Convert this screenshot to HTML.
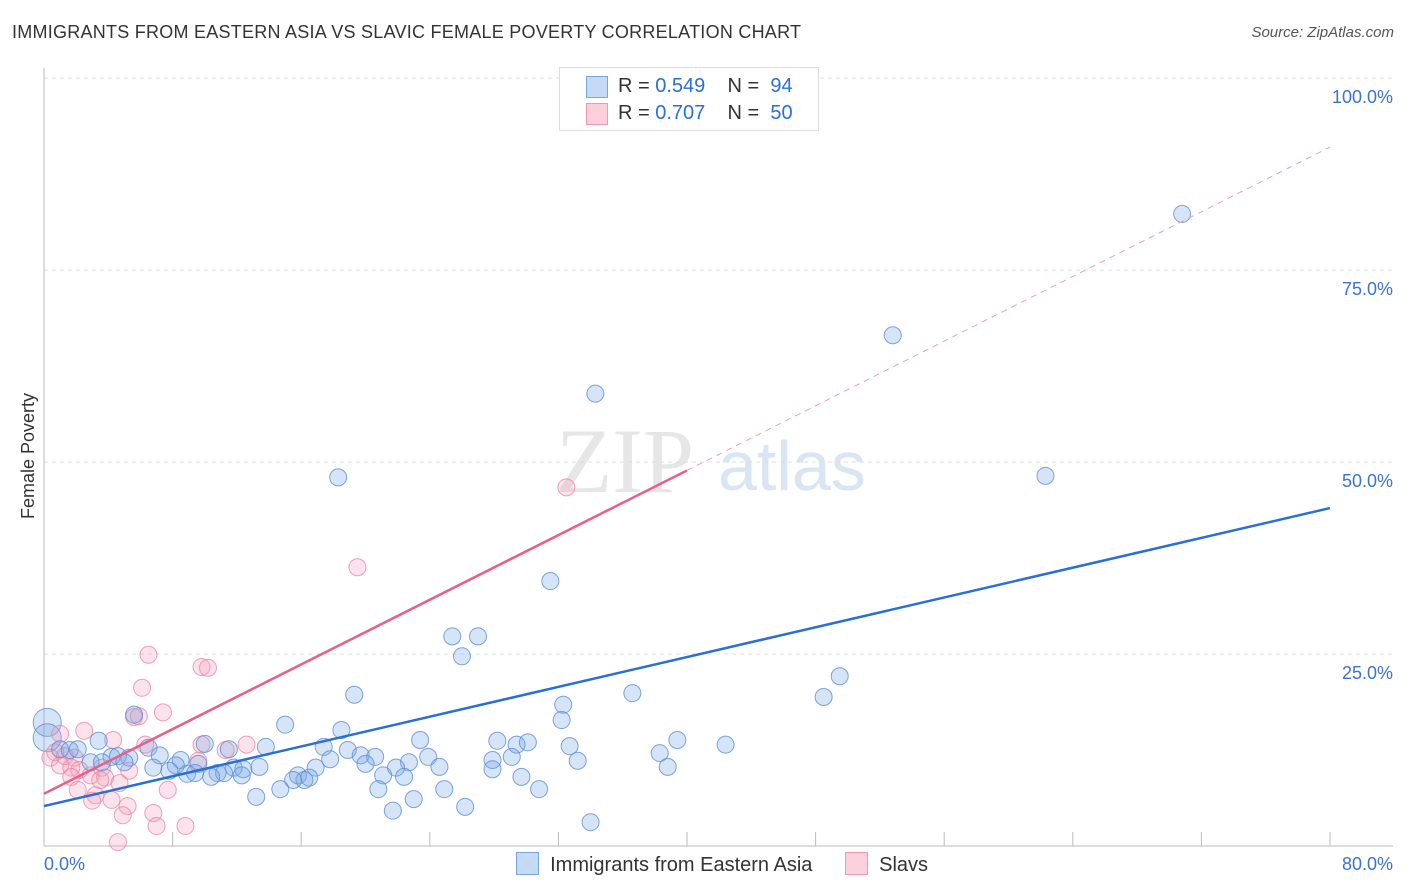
<!DOCTYPE html>
<html><head><meta charset="utf-8"><style>
body{margin:0;background:#fff;font-family:"Liberation Sans",sans-serif;}
#wrap{position:relative;width:1406px;height:892px;overflow:hidden}
.t{position:absolute;white-space:nowrap}
</style></head><body>
<div id="wrap">
<div class="t" style="left:12px;top:22px;font-size:18px;letter-spacing:0.25px;color:#333">IMMIGRANTS FROM EASTERN ASIA VS SLAVIC FEMALE POVERTY CORRELATION CHART</div>
<div class="t" style="right:12px;top:24px;font-size:15px;color:#555;font-style:italic">Source: ZipAtlas.com</div>
<svg id="plot" width="1406" height="892" style="position:absolute;left:0;top:0"></svg>
</div>
<script>
const blueX=[70.8,52.8,34.3,18.3,62.3,31.5,25.4,27.0,26.0,49.5,48.5,36.6,19.3,32.3,32.2,15.0,18.5,5.6,3.4,10.0,23.4,28.2,29.4,30.1,39.4,42.4,32.7,6.5,13.8,17.4,18.9,11.5,1.0,1.6,2.1,7.2,4.2,4.6,5.3,8.5,19.7,20.6,23.9,27.9,29.1,38.3,33.2,2.9,3.6,5.0,9.6,8.2,22.7,20.0,17.8,6.8,11.8,12.4,13.4,16.9,21.9,24.6,38.8,7.8,8.9,9.4,10.8,11.2,12.3,15.8,21.1,27.9,10.4,16.5,16.2,15.5,22.4,29.7,14.7,20.8,24.9,30.8,13.2,23.0,26.2,21.7,34.0];
const blueY=[82.3,66.5,58.9,48.0,48.2,34.5,27.3,27.3,24.7,22.1,19.4,19.9,19.7,18.4,16.4,15.8,15.1,17.1,13.7,13.3,13.8,13.7,13.2,13.5,13.8,13.2,13.0,12.8,12.9,12.9,12.5,12.6,12.6,12.5,12.6,11.8,11.6,11.7,11.5,11.2,11.8,11.6,11.6,11.2,11.6,12.1,11.1,10.9,10.9,10.9,10.7,10.5,10.9,10.7,11.3,10.2,10.2,10.0,10.3,10.2,10.2,10.3,10.3,9.8,9.4,9.5,9.5,9.5,9.2,9.2,9.2,10.0,9.0,8.9,8.6,8.6,9.0,9.0,7.4,7.4,7.4,7.4,6.4,6.1,5.1,4.6,3.1];
const blueBigX=[0.2,0.2];
const blueBigY=[16.1,14.1];
const pinkX=[32.5,19.5,6.5,9.8,10.2,6.1,7.4,5.6,5.9,2.5,1.0,4.3,12.6,6.3,9.8,0.7,1.3,1.9,9.6,11.3,0.4,1.0,1.7,2.2,3.6,5.3,1.7,2.9,3.8,3.5,4.7,7.7,2.1,3.2,3.0,4.2,5.2,4.9,6.8,7.0,8.8,4.6];
const pinkY=[46.7,36.3,24.9,23.3,23.2,20.6,17.4,16.8,16.9,15.0,14.6,13.8,13.2,13.2,13.2,12.2,11.7,11.5,11.1,12.5,11.5,10.5,10.2,9.9,10.2,9.8,9.0,9.2,8.9,8.6,8.2,7.3,7.3,6.6,5.9,6.0,5.2,4.0,4.3,2.6,2.6,0.5];
const blueLine=[5.2,44.0];
const pinkLine=[6.8,91.0];
const yTicks=[25,50,75,100];
const xTicks=[0,8,16,24,32,40,48,56,64,72,80];
const X=v=>44+v*(1330-44)/80;
const Y=v=>846-v*7.68;
const svg=document.getElementById('plot');
const NS='http://www.w3.org/2000/svg';
function mk(t,a){const e=document.createElementNS(NS,t);for(const k in a)e.setAttribute(k,a[k]);svg.appendChild(e);return e;}
let w=mk('text',{x:556,y:492,'font-size':92,'font-family':'Liberation Serif,serif',fill:'#e6e6e6'});w.textContent='ZIP';


w=mk('text',{x:718,y:490,'font-size':70,'font-family':'Liberation Sans,sans-serif',fill:'#d8e5f5'});w.textContent='atlas';


yTicks.forEach(v=>{
 const g=mk('line',{x1:44,x2:1393,y1:Y(v),y2:Y(v),stroke:'#ddd','stroke-dasharray':'4,4'});
 
 
 const t=mk('text',{x:1393,y:Y(v)+25,'text-anchor':'end','font-size':18,fill:'#3a74cc'});t.textContent=v.toFixed(1)+'%';
 
 
});
let a=mk('line',{x1:44,x2:44,y1:68,y2:846,stroke:'#bbb'});


a=mk('line',{x1:44,x2:1393,y1:846,y2:846,stroke:'#bbb'});


xTicks.forEach(v=>{const l=mk('line',{x1:X(v),x2:X(v),y1:832,y2:846,stroke:'#bbb'});
 
 });
let t=mk('text',{x:44,y:870,'font-size':18,fill:'#3a74cc'});t.textContent='0.0%';


t=mk('text',{x:1393,y:870,'text-anchor':'end','font-size':18,fill:'#3a74cc'});t.textContent='80.0%';


t=mk('text',{x:34,y:456,'text-anchor':'middle','font-size':18,fill:'#333',transform:'rotate(-90 34 456)'});t.textContent='Female Poverty';


function dots(xs,ys,r,fill,stroke,name){xs.forEach((x,i)=>{const c=mk('circle',{cx:X(x),cy:Y(ys[i]),r:r,fill:fill,stroke:stroke,'stroke-width':1,'stroke-opacity':0.8});
 
 });}
dots(blueBigX,blueBigY,14,'rgba(120,165,230,0.3)','#5b8fd6','blue-point');
dots(pinkX,pinkY,8.5,'rgba(245,160,185,0.3)','#e88aa6','pink-point');
dots(blueX,blueY,8.5,'rgba(120,165,230,0.3)','#5b8fd6','blue-point');
let l=mk('line',{x1:X(0),y1:Y(blueLine[0]),x2:X(80),y2:Y(blueLine[1]),stroke:'#2a6fd6','stroke-width':2.5});


const pm=(pinkLine[0]+pinkLine[1])/2;
l=mk('line',{x1:X(0),y1:Y(pinkLine[0]),x2:X(40),y2:Y(pm),stroke:'#e8608a','stroke-width':2.5});


l=mk('line',{x1:X(40),y1:Y(pm),x2:X(80),y2:Y(pinkLine[1]),stroke:'#eaa0b8','stroke-width':1,'stroke-dasharray':'6,5'});


</script>
<div class="t" style="left:559px;top:67px;width:258px;height:62px;border:1px solid #ddd;background:#fff;font-size:20px;color:#333">
 <div style="position:absolute;left:26px;top:8px;width:20px;height:20px;background:#c5daf5;border:1px solid #7aa6e0"></div>
 <div style="position:absolute;left:58px;top:7px">R = <span style="color:#2a6fd6">0.549</span>&nbsp;&nbsp;&nbsp; N = &nbsp;<span style="color:#2a6fd6">94</span></div>
 <div style="position:absolute;left:26px;top:35px;width:20px;height:20px;background:#fbd0dc;border:1px solid #eb9ab2"></div>
 <div style="position:absolute;left:58px;top:34px">R = <span style="color:#2a6fd6">0.707</span>&nbsp;&nbsp;&nbsp; N = &nbsp;<span style="color:#2a6fd6">50</span></div>
</div>
<div class="t" style="left:516px;top:852px;font-size:20px;color:#333">
 <span style="display:inline-block;width:21px;height:21px;background:#c5daf5;border:1px solid #7aa6e0;vertical-align:-4px"></span>&nbsp; Immigrants from Eastern Asia</div>
<div class="t" style="left:845px;top:852px;font-size:20px;color:#333">
 <span style="display:inline-block;width:21px;height:21px;background:#fbd0dc;border:1px solid #eb9ab2;vertical-align:-4px"></span>&nbsp; Slavs</div>
</body></html>
